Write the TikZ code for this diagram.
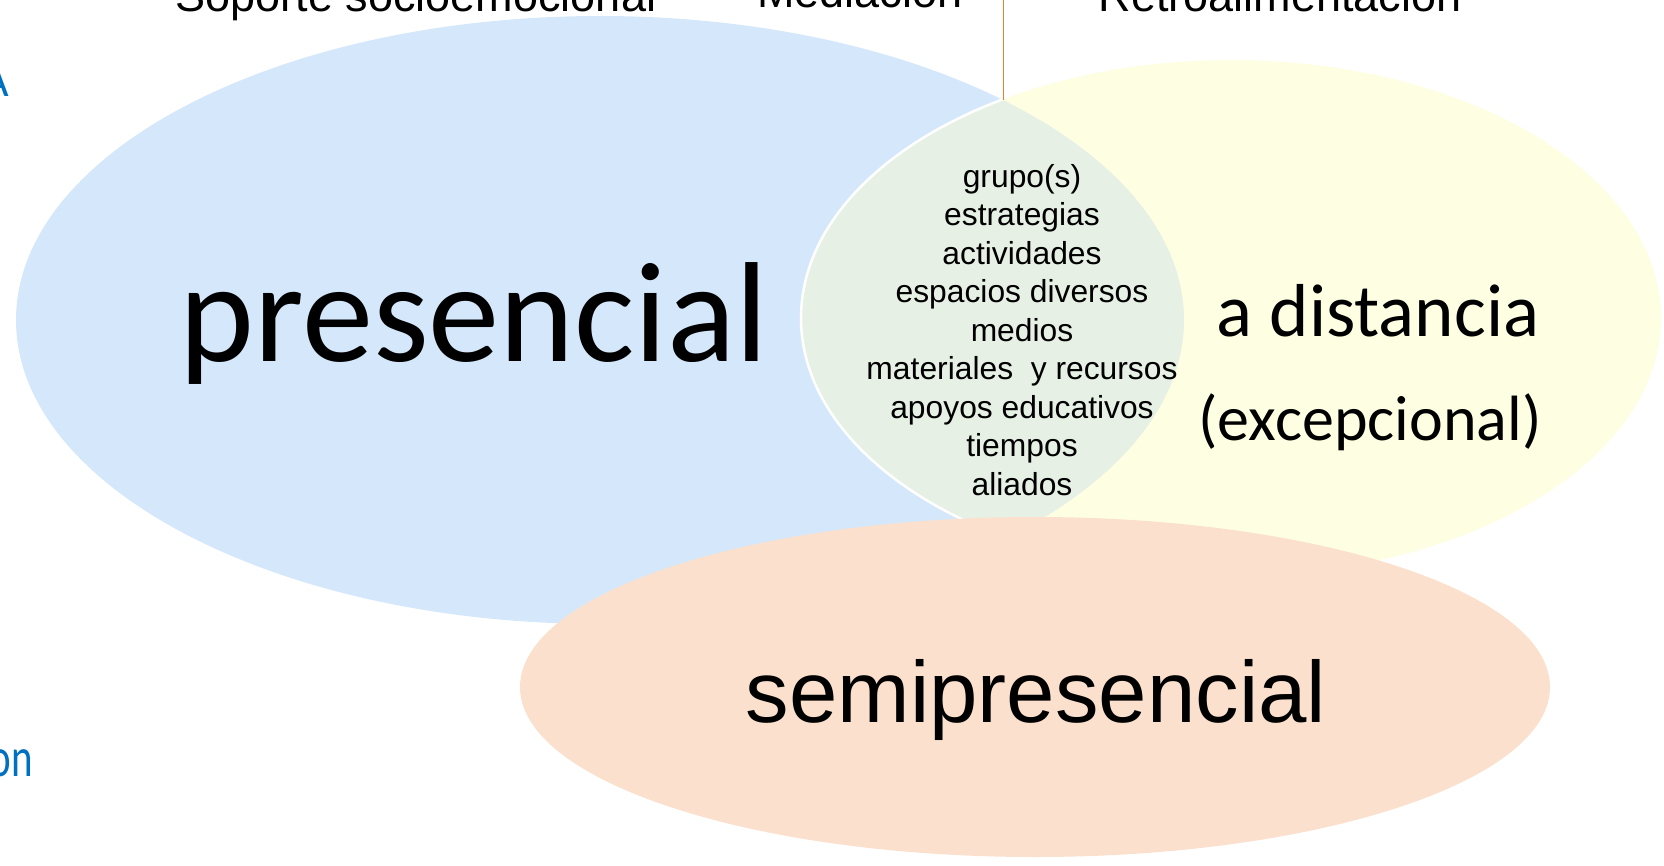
\documentclass[tikz,border=0pt]{standalone}
\usepackage{fontspec}
\setmainfont{Liberation Sans}
\newfontfamily\calib{Carlito}
\usetikzlibrary{positioning}
\definecolor{presblue}{HTML}{D5E8FB}
\definecolor{distyel}{HTML}{FEFEE3}
\definecolor{lensgreen}{HTML}{E6F0E4}
\definecolor{semipeach}{HTML}{FBE1CD}
\definecolor{cutblue}{HTML}{0070C0}
\definecolor{medorange}{HTML}{ED7D31}
\newcommand{\fsz}[1]{\fontsize{#1}{1.2\dimexpr#1pt\relax}\selectfont}

\begin{document}
\begin{tikzpicture}[x=1pt,y=-1pt,
  txt/.style={inner sep=0pt,anchor=base},
  cut/.style={inner sep=0pt,anchor=base east,text=cutblue}]

    \useasboundingbox (0,0) rectangle (1664,865);
    \clip (0,0) rectangle (1664,865);

    % The sets
    \fill[presblue] (600,320) ellipse [x radius=584pt, y radius=304pt];
    \fill[distyel] (1231,318) ellipse [x radius=430pt, y radius=258pt];
    \begin{scope}
      \clip (600,320) ellipse [x radius=584pt, y radius=304pt];
      \fill[lensgreen] (1231,318) ellipse [x radius=430pt, y radius=258pt];
      \draw[white,line width=2.5pt] (1231,318) ellipse [x radius=430pt, y radius=258pt];
    \end{scope}
    \fill[semipeach] (1035,687) ellipse [x radius=515pt, y radius=170pt];

    % Line to the lens
    \coordinate (top) at (1003,0);
    \coordinate (apex) at (1003,100);
    \draw[medorange,line width=1pt] (top) -- (apex);

    % Set names
    \node [txt,font=\calib\fsz{142.5}] at (474,361) (pres) {presencial};
    \node [txt,font=\calib\fsz{75}] at (1378,336) (dist) {a distancia};
    \node [txt,font=\calib\fsz{64}] at (1370,440) (exc) {(excepcional)};
    \node [txt,font=\fsz{87}] at (1036,722) (semi) {semipresencial};

    % Common elements
    \node [align=center,inner sep=0pt,font=\fontsize{31.8}{38.5}\selectfont] at (1022,330) (common)
      {grupo(s)\\estrategias\\actividades\\espacios diversos\\medios\\materiales\ \ y recursos\\apoyos educativos\\tiempos\\aliados};

    % Top labels
    \node [txt,font=\fsz{45}] at (416,11) (soc) {Soporte socioemocional};
    \node [txt,font=\fsz{45}] at (860,7) (med) {Mediación};
    \node [txt,font=\fsz{45}] at (1280,11) (retro) {Retroalimentación};

    % Cut-off side labels
    \node [cut,font=\calib\fsz{46}] at (9,96) (lefta) {A};
    \node [cut,font=\calib\fsz{41}] at (33,776) (lefton) {\scalebox{1}[1.35]{on}};

\end{tikzpicture}
\end{document}
